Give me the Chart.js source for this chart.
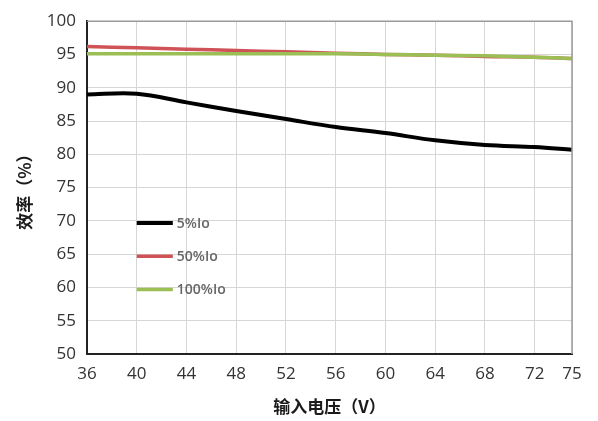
<!DOCTYPE html>
<html>
<head>
<meta charset="utf-8">
<script src="https://cdn.jsdelivr.net/npm/chart.js@4"></script>
<style>
  html, body { margin: 0; padding: 0; background: #fff; }
  #wrap { width: 598px; height: 421px; }
</style>
</head>
<body>
<div id="wrap"><canvas id="grafico" width="598" height="421"></canvas></div>
<script>
// dados
const tensoes = [36, 40, 44, 48, 52, 56, 60, 64, 68, 72, 75];
const eficiencia5 = [89.0, 89.1, 87.8, 86.5, 85.3, 84.1, 83.2, 82.1, 81.4, 81.1, 80.7];
const eficiencia50 = [96.2, 96.0, 95.8, 95.6, 95.4, 95.2, 95.0, 94.9, 94.7, 94.6, 94.4];
const eficiencia100 = [95.1, 95.1, 95.1, 95.1, 95.1, 95.1, 95.0, 94.9, 94.8, 94.6, 94.4];
const ticksX = [36, 40, 44, 48, 52, 56, 60, 64, 68, 72, 75];
const nomes = ['5%Io', '50%Io', '100%Io'];
const cores = ['#000000', '#cf5257', '#9bbf55'];

const fonteNum = '"Open Sans", "Noto Sans", sans-serif';
const fonteCJK = '"Noto Sans CJK SC", sans-serif';

function pontos(vals) {
  return tensoes.map((v, i) => ({ x: v, y: vals[i] }));
}

// legenda desenhada dentro da área do gráfico
const legendaInterna = {
  id: 'legendaInterna',
  afterDatasetsDraw(chart) {
    const ctx = chart.ctx;
    const xs = chart.scales.x, ys = chart.scales.y;
    ctx.save();
    chart.data.datasets.forEach((ds, i) => {
      const y = ys.getPixelForValue(70 - i * 5) + 2;
      const x0 = xs.getPixelForValue(40), x1 = xs.getPixelForValue(42.9);
      ctx.strokeStyle = ds.borderColor;
      ctx.lineWidth = i === 0 ? 4 : 3.5;
      ctx.beginPath();
      ctx.moveTo(x0, y);
      ctx.lineTo(x1, y);
      ctx.stroke();
      ctx.fillStyle = '#666666';
      ctx.font = '600 14px ' + fonteNum;
      ctx.textBaseline = 'middle';
      ctx.fillText(ds.label, x1 + 4, y + 1);
    });
    ctx.restore();
  }
};

function configurarGrafico() {
  const ctx = document.getElementById('grafico').getContext('2d');
  new Chart(ctx, {
    type: 'line',
    data: {
      datasets: [
        { label: nomes[0], data: pontos(eficiencia5), borderColor: cores[0], borderWidth: 4, order: 0 },
        { label: nomes[1], data: pontos(eficiencia50), borderColor: cores[1], borderWidth: 3.5, order: 2 },
        { label: nomes[2], data: pontos(eficiencia100), borderColor: cores[2], borderWidth: 3.5, order: 1 }
      ]
    },
    options: {
      responsive: false,
      animation: false,
      layout: { padding: { top: 17, right: 26, left: 10, bottom: 0 } },
      elements: { point: { radius: 0 }, line: { tension: 0.35, fill: false } },
      plugins: { legend: { display: false }, tooltip: { enabled: false } },
      scales: {
        x: {
          type: 'linear',
          min: 36,
          max: 75,
          afterBuildTicks(scale) { scale.ticks = ticksX.map(v => ({ value: v })); },
          afterFit(scale) { scale.height = 67; },
          grid: { color: '#d6d6d6', lineWidth: 1, drawTicks: false },
          border: { color: '#222', width: 2 },
          ticks: { color: '#333', font: { size: 17, family: fonteNum }, padding: 10, maxRotation: 0 },
          title: { display: true, text: '输入电压（V）', color: '#1a1a1a', font: { size: 17, weight: 'bold', family: fonteCJK }, padding: { top: 0 } }
        },
        y: {
          min: 50,
          max: 100,
          afterFit(scale) { scale.width = 77; },
          grid: { color: '#d6d6d6', lineWidth: 1, drawTicks: false },
          border: { color: '#222', width: 2 },
          ticks: { stepSize: 5, color: '#333', font: { size: 17, family: fonteNum }, padding: 11 },
          title: { display: true, text: '效率（%）', color: '#1a1a1a', font: { size: 17, weight: 'bold', family: fonteCJK }, padding: { bottom: 4 } }
        }
      }
    },
    plugins: [legendaInterna, {
      id: 'moldura',
      afterDraw(chart) {
        const a = chart.chartArea, c = chart.ctx;
        c.save();
        c.strokeStyle = '#9a9a9a';
        c.lineWidth = 1.5;
        c.beginPath();
        c.moveTo(a.left, a.top);
        c.lineTo(a.right, a.top);
        c.lineTo(a.right, a.bottom);
        c.stroke();
        c.restore();
      }
    }]
  });
}

window.onload = function() {
  configurarGrafico();
};
</script>
</body>
</html>
